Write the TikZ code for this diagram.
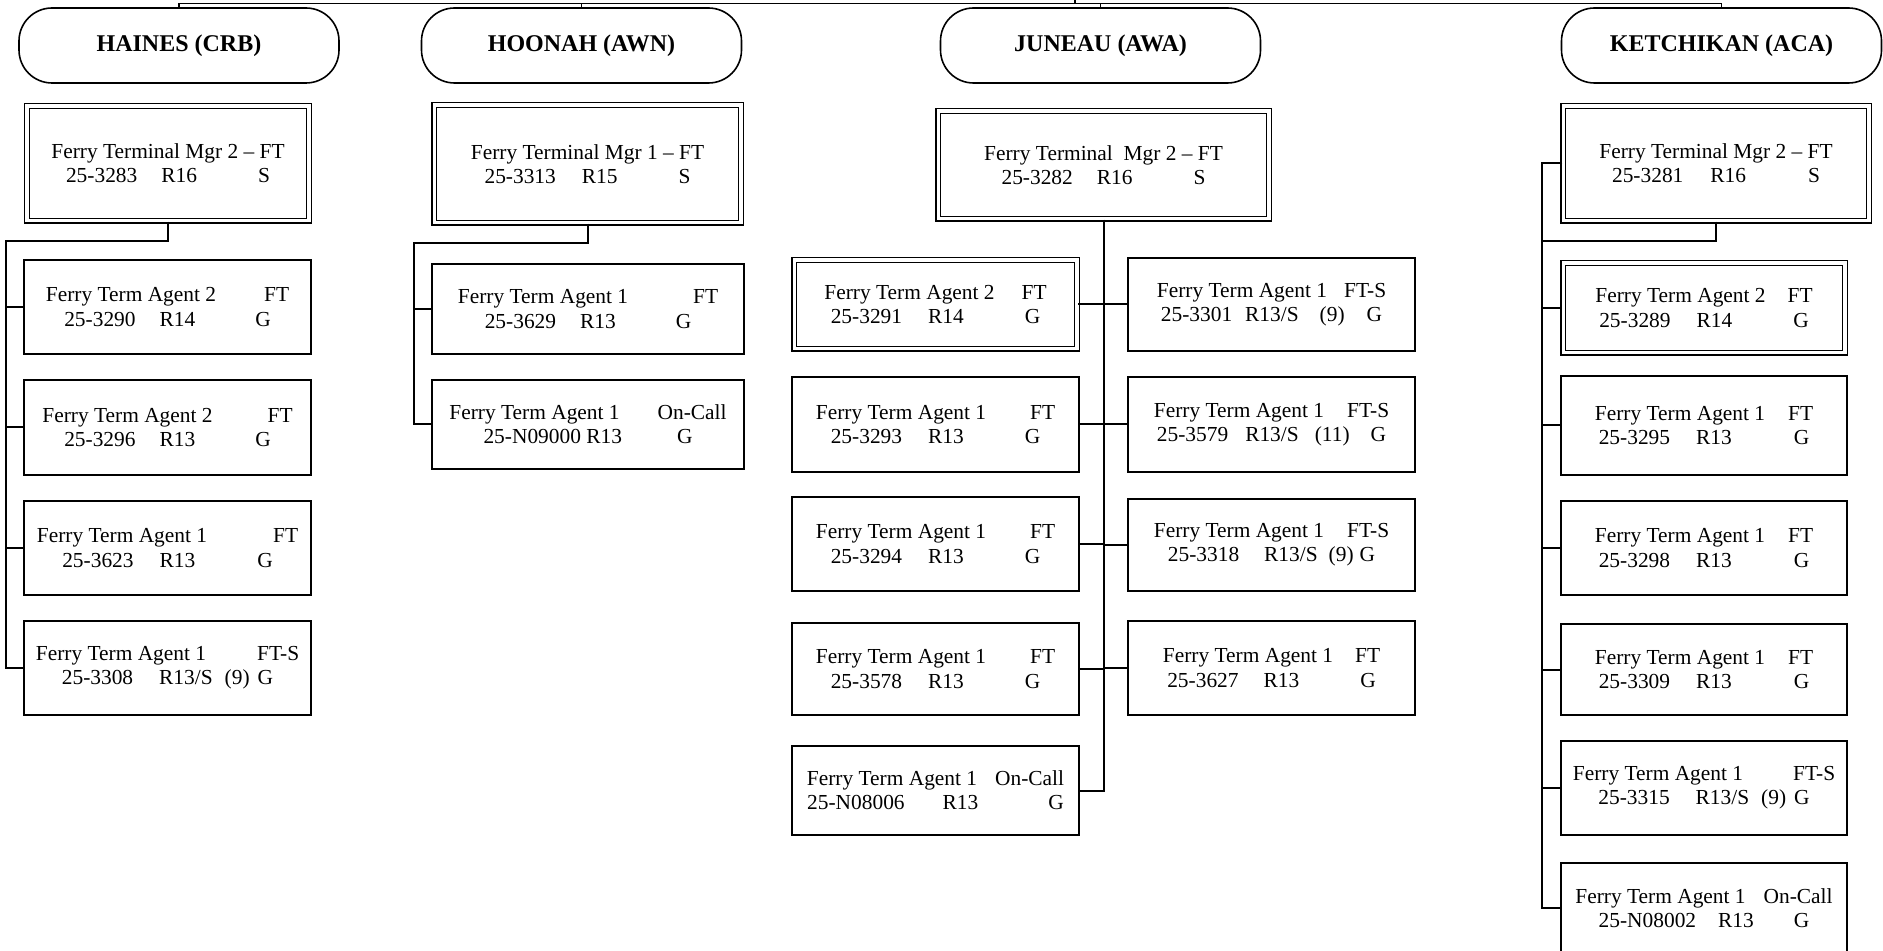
\documentclass[tikz,border=0pt]{standalone}
\usepackage{fontspec}
\setmainfont{Liberation Serif}
\usetikzlibrary{positioning}
\newlength{\pxl}\setlength{\pxl}{0.5pt}
\newcommand{\gapx}[1]{\hspace*{#1\pxl}}

\begin{document}
\begin{tikzpicture}[
    x=0.5pt, y=-0.5pt,
    font=\fontsize{10.7pt}{12.15pt}\selectfont,
    sitest/.style={draw, line width=0.8pt, rounded corners=16.5pt,
                   minimum width=160pt, minimum height=37.5pt, inner sep=0pt,
                   font=\fontsize{12pt}{14pt}\selectfont\bfseries},
    mgrst/.style={draw, double, double distance=1.6pt, line width=0.75pt,
                  align=center, inner sep=0pt},
    agtst/.style={draw, line width=1pt, align=center, inner sep=0pt,
                  minimum width=143.5pt, minimum height=47pt},
    agtdst/.style={mgrst, minimum width=141.4pt, minimum height=44.4pt},
    conn/.style={line width=1pt},
    busl/.style={line width=0.7pt},
  ]
  \useasboundingbox (0,0) rectangle (1883,951);
  \clip (0,0) rectangle (1883,951);
  %% Sites
  \node[sitest] (haines) at (179,45.5) {HAINES (CRB)};
  \node[sitest] (hoonah) at (581.5,45.5) {HOONAH (AWN)};
  \node[sitest] (juneau) at (1100.5,45.5) {JUNEAU (AWA)};
  \node[sitest] (ketch) at (1721.5,45.5) {KETCHIKAN (ACA)};
  %% Haines
  \node[mgrst, minimum width=141pt, minimum height=57.4pt] (hmgr) at (168,163.5)
    {Ferry Terminal Mgr 2 -- FT\\ 25-3283\gapx{24}R16\gapx{61}S};
  \node[agtst] (ha1) at (167.5,307)
    {Ferry Term Agent 2\gapx{48}FT\\ 25-3290\gapx{24}R14\gapx{60}G};
  \node[agtst, minimum height=47.5pt] (ha2) at (167.5,427.5)
    {Ferry Term Agent 2\gapx{55}FT\\ 25-3296\gapx{24}R13\gapx{60}G};
  \node[agtst] (ha3) at (167.5,548)
    {Ferry Term Agent 1\gapx{66}FT\\ 25-3623\gapx{26}R13\gapx{62}G};
  \node[agtst] (ha4) at (167.5,668)
    {Ferry Term Agent 1\gapx{51}FT-S\\ 25-3308\gapx{26}R13/S\gapx{12}(9)\gapx{8}G};
  %% Hoonah
  \node[mgrst, minimum width=153.4pt, minimum height=58.9pt] (omgr) at (587.5,164)
    {Ferry Terminal Mgr 1 -- FT\\ 25-3313\gapx{26}R15\gapx{61}S};
  \node[agtst, minimum width=156pt, minimum height=45pt] (oa1) at (588,309)
    {Ferry Term Agent 1\gapx{65}FT\\ 25-3629\gapx{24}R13\gapx{60}G};
  \node[agtst, minimum width=156pt, minimum height=44.5pt] (oa2) at (588,424.5)
    {Ferry Term Agent 1\gapx{38}On-Call\\ 25-N09000 R13\gapx{55}G};
  %% Juneau
  \node[mgrst, minimum width=165.4pt, minimum height=53.9pt] (jmgr) at (1103.5,165)
    {Ferry Terminal\ \ Mgr 2 -- FT\\ 25-3282\gapx{24}R16\gapx{61}S};
  \node[agtdst] (jl1) at (935.5,304.5)
    {Ferry Term Agent 2\gapx{27}FT\\ 25-3291\gapx{26}R14\gapx{61}G};
  \node[agtst, minimum height=47.5pt] (jl2) at (935.5,424.5)
    {Ferry Term Agent 1\gapx{44}FT\\ 25-3293\gapx{26}R13\gapx{61}G};
  \node[agtst] (jl3) at (935.5,544)
    {Ferry Term Agent 1\gapx{44}FT\\ 25-3294\gapx{26}R13\gapx{61}G};
  \node[agtst, minimum height=46pt] (jl4) at (935.5,669)
    {Ferry Term Agent 1\gapx{44}FT\\ 25-3578\gapx{26}R13\gapx{61}G};
  \node[agtst, minimum height=44.5pt] (jl5) at (935.5,790.5)
    {Ferry Term Agent 1\gapx{18}On-Call\\ 25-N08006\gapx{38}R13\gapx{70}G};
  \node[agtst, minimum height=46.5pt] (jr1) at (1271.5,304.5)
    {Ferry Term Agent 1\gapx{17}FT-S\\ 25-3301\gapx{13}R13/S\gapx{21}(9)\gapx{22}G};
  \node[agtst, minimum height=47.5pt] (jr2) at (1271.5,424.5)
    {Ferry Term Agent 1\gapx{23}FT-S\\ 25-3579\gapx{17}R13/S\gapx{16}(11)\gapx{21}G};
  \node[agtst, minimum height=46pt] (jr3) at (1271.5,545)
    {Ferry Term Agent 1\gapx{23}FT-S\\ 25-3318\gapx{25}R13/S\gapx{11}(9)\gapx{6}G};
  \node[agtst] (jr4) at (1271.5,668)
    {Ferry Term Agent 1\gapx{22}FT\\ 25-3627\gapx{25}R13\gapx{61}G};
  %% Ketchikan
  \node[mgrst, minimum width=152.9pt, minimum height=57.4pt] (kmgr) at (1716,163.5)
    {Ferry Terminal Mgr 2 -- FT\\ 25-3281\gapx{27}R16\gapx{62}S};
  \node[agtdst, minimum width=140.9pt, minimum height=44.9pt] (ka1) at (1704,308)
    {Ferry Term Agent 2\gapx{22}FT\\ 25-3289\gapx{26}R14\gapx{61}G};
  \node[agtst, minimum width=143pt, minimum height=49.5pt] (ka2) at (1704,425.5)
    {Ferry Term Agent 1\gapx{23}FT\\ 25-3295\gapx{26}R13\gapx{62}G};
  \node[agtst, minimum width=143pt] (ka3) at (1704,548)
    {Ferry Term Agent 1\gapx{23}FT\\ 25-3298\gapx{26}R13\gapx{62}G};
  \node[agtst, minimum width=143pt, minimum height=45.5pt] (ka4) at (1704,669.5)
    {Ferry Term Agent 1\gapx{23}FT\\ 25-3309\gapx{26}R13\gapx{62}G};
  \node[agtst, minimum width=143pt] (ka5) at (1704,788)
    {Ferry Term Agent 1\gapx{50}FT-S\\ 25-3315\gapx{26}R13/S\gapx{12}(9)\gapx{8}G};
  \node[agtst, minimum width=143pt, minimum height=45pt] (ka6) at (1704,908)
    {Ferry Term Agent 1\gapx{18}On-Call\\ 25-N08002\gapx{22}R13\gapx{40}G};
  %% Top bus
  \coordinate (root) at (1075,0);
  \coordinate (bus) at (1075,3.5);
  \draw[busl] (root) -- (bus);
  \draw[busl] (haines.north) |- (bus) -| (ketch.north);
  \draw[busl] (hoonah.north) -- (hoonah.north |- bus);
  \draw[busl] (juneau.north) -- (juneau.north |- bus);
  %% Haines lines
  \coordinate (hbend) at (6,241);
  \draw[conn] (hmgr.south) |- (hbend) |- (ha4.west);
  \draw[conn] (hbend |- ha1.west) -- (ha1.west);
  \draw[conn] (hbend |- ha2.west) -- (ha2.west);
  \draw[conn] (hbend |- ha3.west) -- (ha3.west);
  %% Hoonah lines
  \coordinate (obend) at (414,243);
  \draw[conn] (omgr.south) |- (obend) |- (oa2.west);
  \draw[conn] (obend |- oa1.west) -- (oa1.west);
  %% Juneau lines
  \draw[conn] (jmgr.south) |- (jl5.east);
  \draw[conn] (jmgr.south |- jl1.east) -- (jl1.east);
  \draw[conn] (jmgr.south |- jl2.east) -- (jl2.east);
  \draw[conn] (jmgr.south |- jl3.east) -- (jl3.east);
  \draw[conn] (jmgr.south |- jl4.east) -- (jl4.east);
  \draw[conn] (jmgr.south |- jr1.west) -- (jr1.west);
  \draw[conn] (jmgr.south |- jr2.west) -- (jr2.west);
  \draw[conn] (jmgr.south |- jr3.west) -- (jr3.west);
  \draw[conn] (jmgr.south |- jr4.west) -- (jr4.west);
  %% Ketchikan lines
  \coordinate (ktrunk) at (1542,163.5);
  \coordinate (kbend) at (1542,241);
  \draw[conn] (kmgr.west) -- (ktrunk) |- (ka6.west);
  \draw[conn] (kmgr.south) |- (kbend);
  \draw[conn] (ktrunk |- ka1.west) -- (ka1.west);
  \draw[conn] (ktrunk |- ka2.west) -- (ka2.west);
  \draw[conn] (ktrunk |- ka3.west) -- (ka3.west);
  \draw[conn] (ktrunk |- ka4.west) -- (ka4.west);
  \draw[conn] (ktrunk |- ka5.west) -- (ka5.west);
\end{tikzpicture}
\end{document}
